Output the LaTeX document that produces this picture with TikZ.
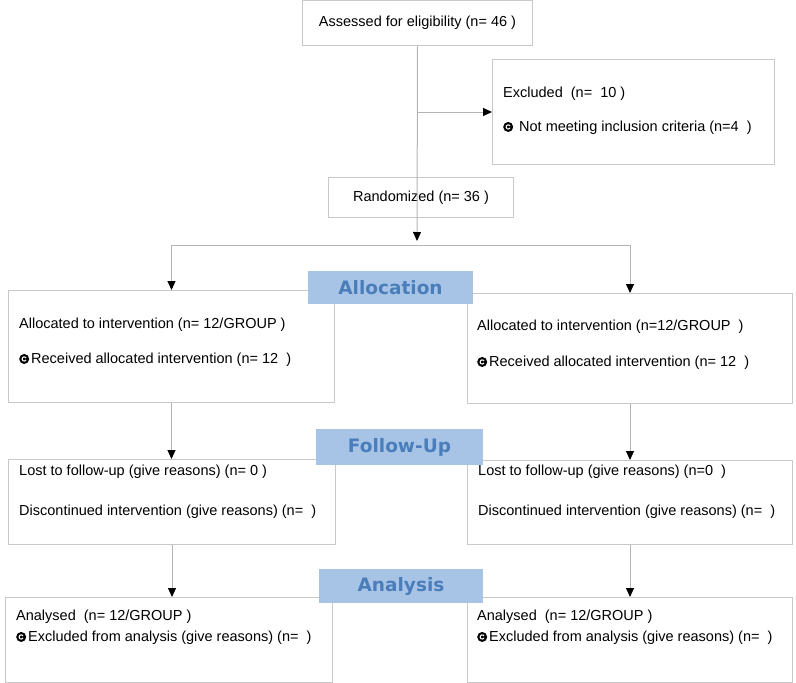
\documentclass[tikz,border=0pt]{standalone}
\usepackage{fontspec}
\setmainfont{Liberation Sans}
\newfontfamily\headfont{DejaVu Sans}
\usetikzlibrary{arrows.meta}

\definecolor{boxgray}{HTML}{C8C8C8}
\definecolor{linegray}{HTML}{B4B4B4}
\definecolor{headfill}{HTML}{A7C3E6}
\definecolor{headtext}{HTML}{4A7EBB}

\tikzset{
  box/.style={draw=boxgray, line width=1pt, fill=white, inner sep=0pt, anchor=north west,
    font=\fontsize{14.5}{16}\selectfont},
  txt/.style={anchor=west, inner sep=0pt, font=\fontsize{14.5}{16}\selectfont},
  phase/.style={fill=headfill, text=headtext, inner sep=0pt,
    font=\headfont\bfseries\fontsize{18.5}{20}\selectfont},
  link/.style={draw=linegray, line width=1pt},
  flow/.style={link, -{Triangle[width=8pt,length=9pt,color=black]}},
}

\newcommand{\bul}{\tikz[baseline=-4.8pt]{\fill[black] (0,0) circle (5pt);
  \draw[white, line width=1.1pt] (-30:2.1pt) arc (-30:-330:2.1pt);}}

\begin{document}
\begin{tikzpicture}[x=1pt, y=-1pt]
  \useasboundingbox (0,0) rectangle (796,683);

  % enrolment
  \node[box, minimum width=230pt, minimum height=45pt] (assess) at (302,0) {Assessed for eligibility (n= 46 )};
  \node[box, minimum width=282pt, minimum height=105pt] (excl) at (492,59) {};
  \node[txt] (exclA) at (503,94) {Excluded\ \ (n=\ \ 10 )};
  \node[txt] (exclB) at (503,128) {\bul\hspace{6pt}Not meeting inclusion criteria (n=4\ \ )};
  \node[box, minimum width=185pt, minimum height=40pt] (rand) at (328,177) {Randomized (n= 36 )};
  \coordinate (split) at (417,245);

  % allocation
  \node[box, minimum width=326pt, minimum height=112pt] (allocL) at (8,290) {};
  \node[txt] (allocLA) at (19,325) {Allocated to intervention (n= 12/GROUP )};
  \node[txt] (allocLB) at (19,360) {\bul\hspace{2pt}Received allocated intervention (n= 12\ \ )};
  \node[box, minimum width=325pt, minimum height=110pt] (allocR) at (467,293) {};
  \node[txt] (allocRA) at (477,327) {Allocated to intervention (n=12/GROUP\ \ )};
  \node[txt] (allocRB) at (477,363) {\bul\hspace{2pt}Received allocated intervention (n= 12\ \ )};

  % follow-up
  \node[box, minimum width=327pt, minimum height=85pt] (followL) at (8,459) {};
  \node[txt] (followLA) at (19,472) {Lost to follow-up (give reasons) (n= 0 )};
  \node[txt] (followLB) at (19,512) {Discontinued intervention (give reasons) (n=\ \ )};
  \node[box, minimum width=325pt, minimum height=84pt] (followR) at (467,460) {};
  \node[txt] (followRA) at (478,472) {Lost to follow-up (give reasons) (n=0\ \ )};
  \node[txt] (followRB) at (478,512) {Discontinued intervention (give reasons) (n=\ \ )};

  % analysis
  \node[box, minimum width=327pt, minimum height=85pt] (analL) at (5,597) {};
  \node[txt] (analLA) at (16,617) {Analysed\ \ (n= 12/GROUP )};
  \node[txt] (analLB) at (16,638) {\bul\hspace{2pt}Excluded from analysis (give reasons) (n=\ \ )};
  \node[box, minimum width=325pt, minimum height=85pt] (analR) at (467,597) {};
  \node[txt] (analRA) at (477,617) {Analysed\ \ (n= 12/GROUP )};
  \node[txt] (analRB) at (477,638) {\bul\hspace{2pt}Excluded from analysis (give reasons) (n=\ \ )};

  % connectors
  \draw[flow, shorten >=4pt] (assess.south) -- (split);
  \draw[flow] (assess.south |- excl.west) -- (excl.west);
  \draw[flow] (split) -| (allocL.north);
  \draw[flow] (split) -| (allocR.north);
  \draw[flow] (allocL.south) -- (allocL.south |- followL.north);
  \draw[flow] (allocR.south) -- (allocR.south |- followR.north);
  \draw[flow] (followL.south) -- (followL.south |- analL.north);
  \draw[flow] (followR.south) -- (followR.south |- analR.north);

  % phase headers
  \node[phase, minimum width=165pt, minimum height=33pt] (allochd) at (390.5,287.5) {Allocation};
  \node[phase, minimum width=167pt, minimum height=36pt] (followhd) at (399.5,447) {Follow-Up};
  \node[phase, minimum width=164pt, minimum height=34pt] (analhd) at (401,586) {Analysis};
\end{tikzpicture}
\end{document}
